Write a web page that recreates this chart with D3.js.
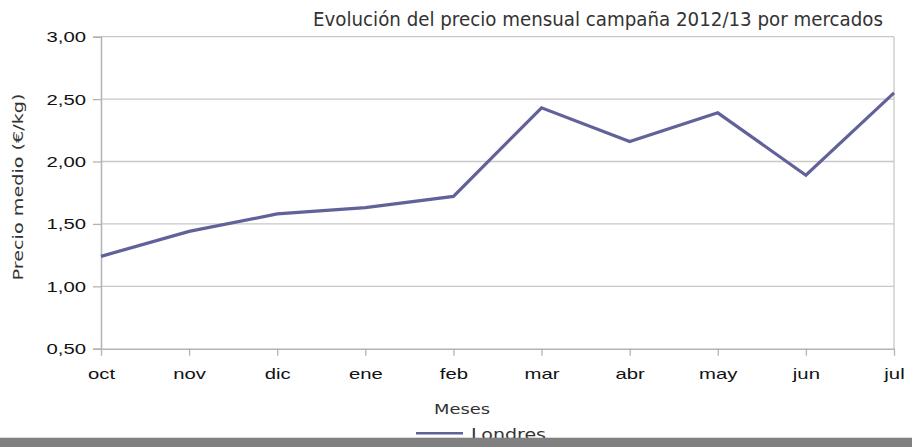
<!DOCTYPE html>
<html><head><meta charset="utf-8">
<script src="https://cdn.jsdelivr.net/npm/d3@7"></script>
<style>body{margin:0;background:#fff}svg{display:block}</style>
</head><body>
<svg id="c" width="912" height="447"></svg>
<script>
const months = ["oct","nov","dic","ene","feb","mar","abr","may","jun","jul"];
const londres = [1.24,1.44,1.58,1.63,1.72,2.43,2.16,2.39,1.89,2.55];
const yTicks = [0.5,1.0,1.5,2.0,2.5,3.0];
const titleText = "Evolución del precio mensual campaña 2012/13 por mercados";
const xLabel = "Meses";
const yLabel = "Precio medio (€/kg)";
const seriesName = "Londres";

const svg = d3.select("#c");
const L = 101, R = 894, T = 36.7, B = 348.7;
const x = d3.scalePoint().domain(months).range([L, R]);
const y = d3.scaleLinear().domain([0.5, 3.0]).range([B, T]);
const fmt = v => d3.format(".2f")(v).replace(".", ",");
const SX = 1.45;
const GOTHIC = "DejaVu Sans, sans-serif";
const TXT = "#333";

// gridlines
svg.append("g").selectAll("line").data(yTicks.slice(1)).join("line")
  .attr("x1", L).attr("x2", R).attr("y1", d => y(d)).attr("y2", d => y(d))
  .attr("stroke", "#c8c8c8").attr("stroke-width", 1.3);
// right border
svg.append("line").attr("x1", R).attr("x2", R).attr("y1", T).attr("y2", B)
  .attr("stroke", "#c8c8c8").attr("stroke-width", 1.3);

// y axis
const ya = svg.append("g").attr("transform", `translate(${L},0)`)
  .call(d3.axisLeft(y).tickValues(yTicks).tickFormat(fmt).tickSize(8).tickPadding(0));
ya.select(".domain").attr("stroke", "#b3b3b3").attr("stroke-width", 1.5);
ya.selectAll(".tick line").attr("stroke", "#b3b3b3").attr("stroke-width", 1.3);
ya.selectAll(".tick text").attr("x", 0).attr("dy", "0.36em")
  .attr("transform", `translate(-15,0) scale(${SX},1)`)
  .attr("font-family", "Liberation Sans, Arial, sans-serif").attr("font-size", 14).attr("fill", "#111");

// x axis
const xa = svg.append("g").attr("transform", `translate(0,${B})`)
  .call(d3.axisBottom(x).tickSize(7).tickPadding(0).tickSizeOuter(0));
xa.select(".domain").attr("stroke", "#b3b3b3").attr("stroke-width", 1.5);
xa.selectAll(".tick line").attr("stroke", "#b3b3b3").attr("stroke-width", 1.3);
xa.selectAll(".tick text").attr("y", 0).attr("dy", 0)
  .attr("transform", `translate(0,30) scale(${SX},1)`)
  .attr("font-family", "Liberation Sans, Arial, sans-serif").attr("font-size", 14).attr("fill", "#111");

// line
svg.append("path").datum(londres)
  .attr("d", d3.line().x((d, i) => x(months[i])).y(d => y(d)))
  .attr("fill", "none").attr("stroke", "#62629a").attr("stroke-width", 3.2)
  .attr("stroke-linejoin", "miter");

// title
svg.append("text").attr("transform", "translate(313,26) scale(1,1.12)").text(titleText)
  .attr("font-family", GOTHIC).attr("font-size", 17.2)
  .attr("textLength", 570).attr("lengthAdjust", "spacingAndGlyphs").attr("fill", TXT);

// y label
svg.append("text").attr("transform", "translate(23,187) rotate(-90)")
  .attr("text-anchor", "middle").text(yLabel)
  .attr("font-family", GOTHIC).attr("font-size", 13.5)
  .attr("textLength", 187).attr("lengthAdjust", "spacingAndGlyphs").attr("fill", TXT);

// x label
svg.append("text").attr("x", 434).attr("y", 414).text(xLabel)
  .attr("font-family", GOTHIC).attr("font-size", 13.5)
  .attr("textLength", 56).attr("lengthAdjust", "spacingAndGlyphs").attr("fill", TXT);

// legend
svg.append("line").attr("x1", 416).attr("x2", 463).attr("y1", 433.3).attr("y2", 433.3)
  .attr("stroke", "#62629a").attr("stroke-width", 2.5);
svg.append("text").attr("x", 471).attr("y", 440).text(seriesName)
  .attr("font-family", GOTHIC).attr("font-size", 16.5)
  .attr("textLength", 75).attr("lengthAdjust", "spacingAndGlyphs").attr("fill", TXT);

// bottom bar
svg.append("rect").attr("x", 0).attr("y", 437.7).attr("width", 912).attr("height", 10)
  .attr("fill", "#808080");
</script>
</body></html>
